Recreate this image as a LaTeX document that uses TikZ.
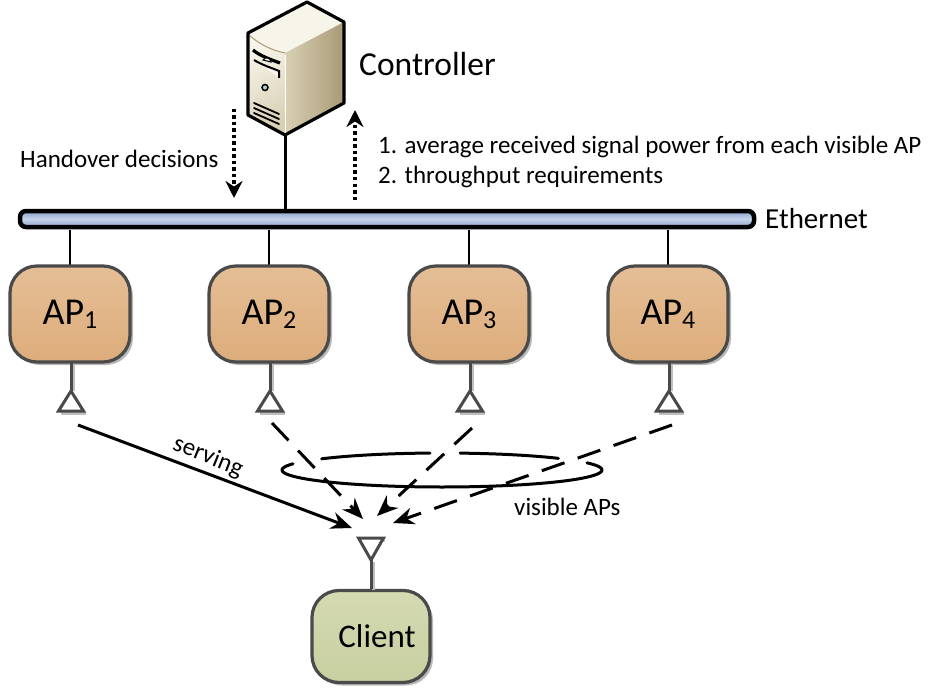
\documentclass[tikz,border=0pt]{standalone}
\usepackage{fontspec}
\setmainfont{Carlito}
\usetikzlibrary{arrows.meta,shadows}
\definecolor{apT}{HTML}{E5BE96}
\definecolor{apB}{HTML}{DDAD7B}
\definecolor{clT}{HTML}{D5DAB2}
\definecolor{clB}{HTML}{C8CFA0}
\definecolor{edgeG}{HTML}{4A4A4A}
\definecolor{busD}{HTML}{8AA3CC}
\definecolor{busL}{HTML}{C6D3EA}
\definecolor{srvL}{HTML}{F7F4EA}
\definecolor{srvM}{HTML}{D9D0B4}
\definecolor{srvD}{HTML}{A89A76}
\newcommand{\apsub}[1]{\raisebox{-7pt}{\fontsize{26}{26}\selectfont #1}}
\tikzset{
  boxbase/.style={draw=edgeG,line width=3.2pt,rounded corners=27pt,minimum height=96pt,inner sep=0pt,font=\fontsize{38}{38}\selectfont,
    drop shadow={shadow xshift=3pt,shadow yshift=-3pt,fill=black,opacity=.28}},
  apbox/.style={boxbase,top color=apT,bottom color=apB,minimum width=120pt},
  clientbox/.style={boxbase,top color=clT,bottom color=clB,minimum width=118pt,minimum height=92pt,font=\fontsize{33}{33}\selectfont},
  wire/.style={line width=2.5pt,draw=black},
  antshadow/.style={line width=3pt,draw=black!25},
  ant/.style={line width=3pt,draw=edgeG,line join=miter},
  radio/.style={line width=3pt,-{Stealth[length=21pt,width=17pt]}},
  radiodash/.style={radio,dash pattern=on 24pt off 14pt},
  ctrl/.style={line width=3.4pt,dash pattern=on 3.5pt off 3pt,-{Stealth[length=17pt,width=17pt]}},
  lab/.style={font=\fontsize{25}{29}\selectfont,inner sep=0pt,anchor=west},
  ringline/.style={line width=3pt,line cap=round},
  srv/.style={line width=1.8pt,draw=black,line cap=round}
}
\begin{document}
\begin{tikzpicture}[x=1pt,y=-1pt]
\useasboundingbox (0,0) rectangle (948,690);
% server
\coordinate (srvbottom) at (285.5,135);
\draw[wire] (srvbottom) -- (285.5,209) coordinate (busC);
\fill[srvL] (307,2) -- (344,22) -- (285,53) .. controls (270,49) and (258,43) .. (248,33) -- cycle;
\shade[left color=srvM,middle color=srvL,right color=srvD] (285,53) -- (344,22) -- (344,103) -- (285,135) -- cycle;
\shade[top color=srvL,bottom color=srvM,shading angle=30] (249,35) .. controls (258,43) and (270,50) .. (285,53) -- (285,135) -- (249,115) -- cycle;
\draw[line width=1pt,draw=srvD] (249,35) .. controls (258,43) and (270,50) .. (285,53);
\draw[line width=3.2pt,line join=round] (307,2) -- (344,22) -- (344,103) -- (285,135) -- (248,115) -- (248,33) -- cycle;
\draw[line width=1pt,draw=white] (285,55) -- (285,133);
\draw[line width=3.2pt] (253,50) .. controls (260,56) and (272,60) .. (280,63);
\draw[line width=2pt,fill=srvL] (254,60) .. controls (262,65) and (272,68) .. (279,71) -- (279,78);
\draw[line width=1pt,fill=white] (263,60) .. controls (266,56) and (270,58) .. (271,62) -- cycle;
\draw[line width=1.5pt,fill=teal!35] (265,87.5) circle (3pt);
\draw[srv] (254,103) -- (279,114);
\draw[srv] (254,108) -- (279,119);
\draw[srv] (254,113) -- (279,124);
% bus
\node[draw=black,line width=4.5pt,rounded corners=6pt,minimum width=734pt,minimum height=16pt,inner sep=0pt,
  top color=busD,bottom color=busD,middle color=busL] (bus) at (387,219) {};
% AP wires
\foreach \n/\x in {1/70,2/269,3/469,4/668}{
  \draw[wire] (\x,230) coordinate (busA\n) -- (\x,267);
}
% AP boxes
\node[apbox] (ap1) at (70,314) {\raisebox{-3pt}{AP}\apsub{1}};
\node[apbox] (ap2) at (269,314) {\raisebox{-3pt}{AP}\apsub{2}};
\node[apbox] (ap3) at (469,314) {\raisebox{-3pt}{AP}\apsub{3}};
\node[apbox] (ap4) at (668,314) {\raisebox{-3pt}{AP}\apsub{4}};
% antennas
\foreach \n/\x in {1/71,2/270,3/470,4/669}{
  \draw[antshadow] (\x+2,364) -- (\x+2,391);
  \draw[antshadow] (\x-10,413) -- (\x+15,413);
  \draw[ant] (\x,363) -- (\x,391);
  \draw[ant,fill=white] (\x,391) -- (\x+12.5,411) -- (\x-12.5,411) -- cycle;
}
% ring
\draw[ringline] plot[domain=158.6:385,samples=60,smooth] ({442+160*cos(\x)},{470-17*sin(\x)});
\draw[ringline] plot[domain=94.3:138.8,samples=12,smooth] ({442+160*cos(\x)},{470-17*sin(\x)});
\draw[ringline] plot[domain=43.3:83.5,samples=12,smooth] ({442+160*cos(\x)},{470-17*sin(\x)});
% client
\node[clientbox] (client) at (371,636.5) {\hspace{12pt}\raisebox{-2pt}{Client}};
\draw[antshadow] (373,590) -- (373,562);
\draw[ant] (371,589) -- (371,560);
\draw[antshadow] (360,540) -- (385,540);
\draw[ant,fill=white] (371,560) -- (383.5,538) -- (358.5,538) -- cycle;
% radio links
\coordinate (s1) at (78,425);
\coordinate (s2) at (272,423);
\coordinate (s3) at (472,428);
\coordinate (s4) at (672,425);
\coordinate (t1) at (352,528);
\coordinate (t2) at (363,519);
\coordinate (t3) at (377,516);
\coordinate (t4) at (393,523);
\draw[radio] (s1) -- (t1);
\draw[radiodash] (s2) -- (t2);
\draw[radiodash] (s3) -- (t3);
\draw[radiodash] (s4) -- (t4);
% control arrows
\coordinate (d1) at (234,109);
\coordinate (d2) at (234,198);
\coordinate (u1) at (355,200);
\coordinate (u2) at (355,110);
\draw[ctrl] (d1) -- (d2);
\draw[ctrl] (u1) -- (u2);
% labels
\node[lab,font=\fontsize{33.5}{33.5}\selectfont] (ctrlname) at (359,64) {Controller};
\node[lab] (ho) at (20,159) {Handover decisions};
\node[lab] (m1) at (378,147) {1. average received signal power from each visible AP};
\node[lab] (m2) at (378,177) {2. throughput requirements};
\node[lab,font=\fontsize{29}{29}\selectfont] (eth) at (765,219) {Ethernet};
\node[lab,rotate=-22,anchor=center] (serving) at (208,457) {serving};
\node[lab] (vis) at (514,507) {visible APs};
\end{tikzpicture}
\end{document}
